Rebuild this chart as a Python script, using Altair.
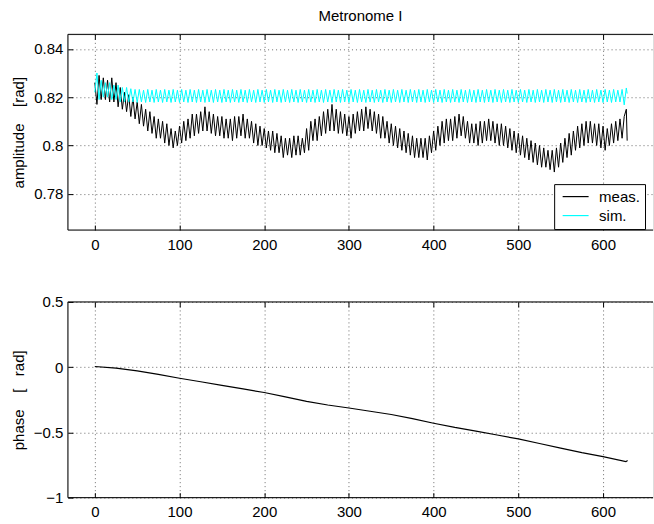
import altair as alt
import pandas as pd

# ---------------- data ----------------
t = [
    0, 2.5, 5, 7.5, 10, 12.5, 15, 17.5, 20, 22.5, 25, 27.5, 30, 32.5, 35, 37.5, 40, 42.5, 45, 47.5,
    50, 52.5, 55, 57.5, 60, 62.5, 65, 67.5, 70, 72.5, 75, 77.5, 80, 82.5, 85, 87.5, 90, 92.5, 95, 97.5,
    100, 102.5, 105, 107.5, 110, 112.5, 115, 117.5, 120, 122.5, 125, 127.5, 130, 132.5, 135, 137.5, 140, 142.5, 145, 147.5,
    150, 152.5, 155, 157.5, 160, 162.5, 165, 167.5, 170, 172.5, 175, 177.5, 180, 182.5, 185, 187.5, 190, 192.5, 195, 197.5,
    200, 202.5, 205, 207.5, 210, 212.5, 215, 217.5, 220, 222.5, 225, 227.5, 230, 232.5, 235, 237.5, 240, 242.5, 245, 247.5,
    250, 252.5, 255, 257.5, 260, 262.5, 265, 267.5, 270, 272.5, 275, 277.5, 280, 282.5, 285, 287.5, 290, 292.5, 295, 297.5,
    300, 302.5, 305, 307.5, 310, 312.5, 315, 317.5, 320, 322.5, 325, 327.5, 330, 332.5, 335, 337.5, 340, 342.5, 345, 347.5,
    350, 352.5, 355, 357.5, 360, 362.5, 365, 367.5, 370, 372.5, 375, 377.5, 380, 382.5, 385, 387.5, 390, 392.5, 395, 397.5,
    400, 402.5, 405, 407.5, 410, 412.5, 415, 417.5, 420, 422.5, 425, 427.5, 430, 432.5, 435, 437.5, 440, 442.5, 445, 447.5,
    450, 452.5, 455, 457.5, 460, 462.5, 465, 467.5, 470, 472.5, 475, 477.5, 480, 482.5, 485, 487.5, 490, 492.5, 495, 497.5,
    500, 502.5, 505, 507.5, 510, 512.5, 515, 517.5, 520, 522.5, 525, 527.5, 530, 532.5, 535, 537.5, 540, 542.5, 545, 547.5,
    550, 552.5, 555, 557.5, 560, 562.5, 565, 567.5, 570, 572.5, 575, 577.5, 580, 582.5, 585, 587.5, 590, 592.5, 595, 597.5,
    600, 602.5, 605, 607.5, 610, 612.5, 615, 617.5, 620, 622.5, 625, 627.5, 628.5,
]

meas = [
    0.826, 0.817, 0.829, 0.819, 0.828, 0.819, 0.827, 0.818, 0.828, 0.818, 0.826, 0.816, 0.824, 0.815, 0.822, 0.814, 0.821, 0.812, 0.820, 0.811,
    0.818, 0.809, 0.817, 0.808, 0.815, 0.806, 0.814, 0.805, 0.812, 0.803, 0.811, 0.803, 0.810, 0.801, 0.809, 0.800, 0.807, 0.799, 0.806, 0.800,
    0.808, 0.801, 0.810, 0.802, 0.811, 0.803, 0.813, 0.804, 0.813, 0.805, 0.814, 0.806, 0.816, 0.806, 0.814, 0.805, 0.813, 0.804, 0.812, 0.804,
    0.812, 0.803, 0.811, 0.803, 0.811, 0.802, 0.812, 0.803, 0.812, 0.804, 0.813, 0.803, 0.811, 0.803, 0.810, 0.801, 0.809, 0.800, 0.808, 0.800,
    0.807, 0.799, 0.806, 0.798, 0.806, 0.797, 0.805, 0.797, 0.804, 0.795, 0.803, 0.796, 0.803, 0.795, 0.804, 0.796, 0.804, 0.796, 0.803, 0.797,
    0.807, 0.798, 0.810, 0.802, 0.811, 0.802, 0.812, 0.804, 0.814, 0.805, 0.815, 0.806, 0.817, 0.806, 0.815, 0.805, 0.814, 0.805, 0.813, 0.804,
    0.812, 0.803, 0.813, 0.805, 0.814, 0.806, 0.815, 0.806, 0.816, 0.807, 0.815, 0.806, 0.814, 0.805, 0.813, 0.803, 0.812, 0.803, 0.810, 0.801,
    0.809, 0.800, 0.808, 0.799, 0.807, 0.798, 0.806, 0.797, 0.805, 0.796, 0.804, 0.795, 0.803, 0.795, 0.803, 0.795, 0.803, 0.794, 0.804, 0.797,
    0.806, 0.798, 0.808, 0.800, 0.810, 0.801, 0.811, 0.802, 0.811, 0.802, 0.812, 0.803, 0.813, 0.804, 0.812, 0.803, 0.810, 0.801, 0.809, 0.801,
    0.809, 0.800, 0.810, 0.801, 0.810, 0.802, 0.811, 0.802, 0.810, 0.801, 0.809, 0.800, 0.809, 0.800, 0.808, 0.799, 0.807, 0.798, 0.806, 0.797,
    0.805, 0.796, 0.804, 0.795, 0.803, 0.794, 0.802, 0.793, 0.801, 0.792, 0.800, 0.791, 0.799, 0.791, 0.798, 0.790, 0.798, 0.789, 0.799, 0.791,
    0.801, 0.793, 0.803, 0.795, 0.805, 0.796, 0.806, 0.798, 0.808, 0.799, 0.809, 0.800, 0.810, 0.801, 0.810, 0.801, 0.809, 0.800, 0.809, 0.799,
    0.808, 0.798, 0.807, 0.800, 0.809, 0.801, 0.810, 0.802, 0.811, 0.803, 0.812, 0.815, 0.802,
]

sim = [
    0.8220, 0.8300, 0.8190, 0.8270, 0.8200, 0.8260, 0.8200, 0.8260, 0.8190, 0.8250, 0.8190, 0.8250, 0.8180, 0.8240, 0.8180, 0.8240, 0.8180, 0.8235, 0.8180, 0.8232,
    0.8178, 0.8232, 0.8180, 0.8229, 0.8178, 0.8232, 0.8180, 0.8229, 0.8178, 0.8232, 0.8180, 0.8229, 0.8178, 0.8232, 0.8180, 0.8229, 0.8178, 0.8232, 0.8180, 0.8229,
    0.8178, 0.8232, 0.8180, 0.8229, 0.8178, 0.8232, 0.8180, 0.8229, 0.8178, 0.8232, 0.8180, 0.8229, 0.8178, 0.8232, 0.8180, 0.8229, 0.8178, 0.8232, 0.8180, 0.8229,
    0.8178, 0.8232, 0.8180, 0.8229, 0.8178, 0.8232, 0.8180, 0.8229, 0.8178, 0.8232, 0.8180, 0.8229, 0.8178, 0.8232, 0.8180, 0.8229, 0.8178, 0.8232, 0.8180, 0.8229,
    0.8178, 0.8232, 0.8180, 0.8229, 0.8178, 0.8232, 0.8180, 0.8229, 0.8178, 0.8232, 0.8180, 0.8229, 0.8178, 0.8232, 0.8180, 0.8229, 0.8178, 0.8232, 0.8180, 0.8229,
    0.8178, 0.8232, 0.8180, 0.8229, 0.8178, 0.8232, 0.8180, 0.8229, 0.8178, 0.8232, 0.8180, 0.8229, 0.8178, 0.8232, 0.8180, 0.8229, 0.8178, 0.8232, 0.8180, 0.8229,
    0.8178, 0.8232, 0.8180, 0.8229, 0.8178, 0.8232, 0.8180, 0.8229, 0.8178, 0.8232, 0.8180, 0.8229, 0.8178, 0.8232, 0.8180, 0.8229, 0.8178, 0.8232, 0.8180, 0.8229,
    0.8178, 0.8232, 0.8180, 0.8229, 0.8178, 0.8232, 0.8180, 0.8229, 0.8178, 0.8232, 0.8180, 0.8229, 0.8178, 0.8232, 0.8180, 0.8229, 0.8178, 0.8232, 0.8180, 0.8229,
    0.8178, 0.8232, 0.8180, 0.8229, 0.8178, 0.8232, 0.8180, 0.8229, 0.8178, 0.8232, 0.8180, 0.8229, 0.8178, 0.8232, 0.8180, 0.8229, 0.8178, 0.8232, 0.8180, 0.8229,
    0.8178, 0.8232, 0.8180, 0.8229, 0.8178, 0.8232, 0.8180, 0.8229, 0.8178, 0.8232, 0.8180, 0.8229, 0.8178, 0.8232, 0.8180, 0.8229, 0.8178, 0.8232, 0.8180, 0.8229,
    0.8178, 0.8232, 0.8180, 0.8229, 0.8178, 0.8232, 0.8180, 0.8229, 0.8178, 0.8232, 0.8180, 0.8229, 0.8178, 0.8232, 0.8180, 0.8229, 0.8178, 0.8232, 0.8180, 0.8229,
    0.8178, 0.8232, 0.8180, 0.8229, 0.8178, 0.8232, 0.8180, 0.8229, 0.8178, 0.8232, 0.8180, 0.8229, 0.8178, 0.8232, 0.8180, 0.8229, 0.8178, 0.8232, 0.8180, 0.8229,
    0.8178, 0.8232, 0.8180, 0.8229, 0.8178, 0.8232, 0.8180, 0.8229, 0.8180, 0.8232, 0.8168, 0.8238, 0.8215,
]

phase_t = [0, 25, 50, 75, 100, 125, 150, 175, 200, 225, 250, 275, 300, 325, 350,
           375, 400, 425, 450, 475, 500, 525, 550, 575, 600, 627, 629]
phase = [0.005, -0.008, -0.028, -0.055, -0.085, -0.112, -0.140, -0.167, -0.194, -0.228,
         -0.262, -0.290, -0.313, -0.338, -0.363, -0.395, -0.430, -0.462, -0.490, -0.520,
         -0.550, -0.585, -0.620, -0.655, -0.686, -0.724, -0.715]

x_ticks = [0, 100, 200, 300, 400, 500, 600]
amp_ticks = [0.78, 0.80, 0.82, 0.84]
phase_ticks = [-1, -0.5, 0, 0.5]
series_names = ["meas.", "sim."]
series_colors = ["#000000", "#00ffff"]

# ---------------- style ----------------
FONT = "Liberation Sans"
FS = 15
W, H = 586, 196
XDOM = [-31.8, 659]
GRID = "#6a6a6a"
NB = "\u00a0"

xscale = alt.Scale(domain=XDOM, nice=False, zero=False)
amp_scale = alt.Scale(domain=[0.765, 0.846], nice=False, zero=False)
phase_scale = alt.Scale(domain=[-1, 0.5], nice=False, zero=False)


def x_bottom_axis():
    return alt.Axis(orient="bottom", values=x_ticks, offset=-5, domain=False,
                    tickSize=5, tickColor="black", tickWidth=1, labelPadding=7,
                    grid=True, gridDash=[1, 3], gridColor=GRID, gridOpacity=1,
                    labelFont=FONT, labelFontSize=FS, labelColor="black",
                    format="d", title=None)


def x_top_axis():
    return alt.Axis(orient="top", values=x_ticks, offset=-5, domain=False,
                    tickSize=5, tickColor="black", tickWidth=1, labels=False,
                    grid=False, title=None)


def y_axis(vals, fmt, title):
    return alt.Axis(orient="left", values=vals, offset=-5, domain=False,
                    tickSize=5, tickColor="black", tickWidth=1, labelPadding=5,
                    grid=True, gridDash=[1, 3], gridColor=GRID, gridOpacity=1,
                    labelFont=FONT, labelFontSize=FS, labelColor="black",
                    format=fmt, title=title, titleFont=FONT, titleFontSize=FS,
                    titleFontWeight="normal", titleColor="black",
                    titleX=-46, titleBaseline="bottom")


def frame_layers():
    d = pd.DataFrame({"k": [0]})
    base = alt.Chart(d).mark_rule(color="black", strokeWidth=1)
    return [
        base.encode(x=alt.value(0), x2=alt.value(W), y=alt.value(0)),
        base.encode(x=alt.value(0), x2=alt.value(W), y=alt.value(H)),
        base.encode(x=alt.value(0), y=alt.value(0), y2=alt.value(H)),
    ]


def top_ticks():
    return alt.Chart(pd.DataFrame({"t": x_ticks})).mark_point(opacity=0).encode(
        x=alt.X("t:Q", scale=xscale, axis=x_top_axis()))


amp_df = pd.DataFrame({
    "t": t + t,
    "value": meas + sim,
    "series": [series_names[0]] * len(t) + [series_names[1]] * len(t),
})
phase_df = pd.DataFrame({"t": phase_t, "value": phase})

amp_lines = alt.Chart(amp_df).mark_line(strokeWidth=1).encode(
    x=alt.X("t:Q", scale=xscale, axis=x_bottom_axis()),
    y=alt.Y("value:Q", scale=amp_scale,
            axis=y_axis(amp_ticks, ".2~f", "amplitude" + NB * 4 + "[rad]")),
    color=alt.Color(
        "series:N",
        scale=alt.Scale(domain=series_names, range=series_colors),
        legend=alt.Legend(orient="none", legendX=487, legendY=150, title=None,
                          symbolType="M-2,0H2", symbolSize=169, symbolStrokeWidth=1.2,
                          labelFont=FONT, labelFontSize=FS, labelColor="black",
                          strokeColor="black", fillColor="white", padding=5,
                          rowPadding=3, labelOffset=16, symbolOffset=9, cornerRadius=0),
    ),
)

top = alt.layer(amp_lines, *frame_layers(), top_ticks()).properties(
    width=W, height=H,
    title=alt.TitleParams("Metronome I", font=FONT, fontSize=FS, fontWeight="normal",
                          color="black", anchor="middle", offset=10),
)

phase_line = alt.Chart(phase_df).mark_line(strokeWidth=1.2, color="black").encode(
    x=alt.X("t:Q", scale=xscale, axis=x_bottom_axis()),
    y=alt.Y("value:Q", scale=phase_scale,
            axis=y_axis(phase_ticks, ".1~f", "phase" + NB * 4 + "[" + NB * 3 + "rad]")),
)

bottom = alt.layer(phase_line, *frame_layers(), top_ticks()).properties(width=W, height=H)

chart = alt.vconcat(top, bottom, spacing=72, bounds="flush").properties(
    padding={"left": 11, "top": 8, "right": 0, "bottom": 0}
).configure_view(stroke=None).configure(font=FONT, background="white")

chart.save("out.html", embed_options={"renderer": "svg", "actions": False})
